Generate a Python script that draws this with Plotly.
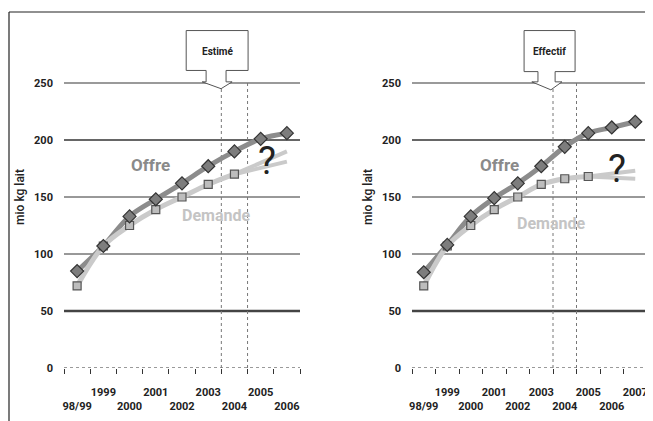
import plotly.graph_objects as go

# ---- data ----
cats_left = ["98/99", "1999", "2000", "2001", "2002", "2003", "2004", "2005", "2006"]
offre_left = [85, 107, 133, 148, 162, 177, 190, 201, 206]
demande_left = [72, 107, 125, 139, 150, 161, 170]
demande_left_hi = [170, 190]
demande_left_lo = [170, 181]
split_left = ["2004", "2006"]

cats_right = ["98/99", "1999", "2000", "2001", "2002", "2003", "2004", "2005", "2006", "2007"]
offre_right = [84, 108, 133, 149, 162, 177, 194, 206, 211, 216]
demande_right = [72, 107, 125, 139, 150, 161, 166, 168]
demande_right_hi = [168, 173]
demande_right_lo = [168, 166]
split_right = ["2005", "2007"]

y_ticks = [0, 50, 100, 150, 200, 250]
callout_left = "Estimé"
callout_right = "Effectif"
y_title = "mio kg lait"

OFFRE_LINE = "#8c8c8c"
OFFRE_MARK = "#7d7d7d"
DEM_LINE = "#cacaca"
DEM_MARK = "#bdbdbd"
FONT = "Liberation Sans Narrow, Roboto, Arial, sans-serif"

# the page body has an 8px margin: size the figure so it fills the window
PAGE_W, PAGE_H, OFF = 653, 421, 8
W, H = PAGE_W - OFF, PAGE_H - OFF


def px_x(p):
    return (p - OFF) / W


def px_y(p):
    return 1 - (p - OFF) / H


def tick_text(cats):
    return [c if i % 2 == 1 else "<br>" + c for i, c in enumerate(cats)]


fig = go.Figure()


def add_panel(xa, ya, cats, offre, demande, split, hi, lo):
    n_d = len(demande)
    fig.add_trace(go.Scatter(x=cats, y=offre, mode="lines", line=dict(color=OFFRE_LINE, width=5, shape="spline"),
                             xaxis=xa, yaxis=ya, hoverinfo="skip"))
    fig.add_trace(go.Scatter(x=cats[:n_d], y=demande, mode="lines", line=dict(color=DEM_LINE, width=5, shape="spline"),
                             xaxis=xa, yaxis=ya, hoverinfo="skip"))
    fig.add_trace(go.Scatter(x=split, y=hi, mode="lines", line=dict(color=DEM_LINE, width=4),
                             xaxis=xa, yaxis=ya, hoverinfo="skip"))
    fig.add_trace(go.Scatter(x=split, y=lo, mode="lines", line=dict(color=DEM_LINE, width=4),
                             xaxis=xa, yaxis=ya, hoverinfo="skip"))
    fig.add_trace(go.Scatter(x=cats[:n_d], y=demande, mode="markers",
                             marker=dict(symbol="square", size=8, color=DEM_MARK, line=dict(color="#555", width=1.2)),
                             xaxis=xa, yaxis=ya, hoverinfo="skip"))
    fig.add_trace(go.Scatter(x=cats, y=offre, mode="markers",
                             marker=dict(symbol="diamond", size=10, color=OFFRE_MARK, line=dict(color="#333", width=1.2)),
                             xaxis=xa, yaxis=ya, hoverinfo="skip"))


add_panel("x", "y", cats_left, offre_left, demande_left, split_left, demande_left_hi, demande_left_lo)
add_panel("x2", "y2", cats_right, offre_right, demande_right, split_right, demande_right_hi, demande_right_lo)

yaxis_common = dict(range=[0, 300], domain=[px_y(368), px_y(26)], tickvals=y_ticks, showgrid=False,
                    zeroline=False, showline=False, ticks="", automargin=False,
                    tickfont=dict(size=11, color="#222", family=FONT, weight="bold"),
                    ticklabelstandoff=10,
                    title=dict(text=y_title, font=dict(size=12, color="#222", family=FONT, weight=500),
                               standoff=6))
xaxis_common = dict(type="category", tickson="boundaries", ticks="outside", ticklen=5, tickcolor="#333",
                    showgrid=False, zeroline=False, showline=False, tickangle=0, automargin=False,
                    ticklabelstandoff=16,
                    tickfont=dict(size=11, color="#222", family=FONT, weight="bold"))

fig.update_layout(
    width=W, height=H, margin=dict(l=0, r=0, t=0, b=0, autoexpand=False),
    paper_bgcolor="white", plot_bgcolor="white", showlegend=False,
    xaxis=dict(xaxis_common, domain=[px_x(64), px_x(300)], range=[-0.5, 8.5], anchor="y",
               tickmode="array", tickvals=cats_left, ticktext=tick_text(cats_left)),
    yaxis=dict(yaxis_common, anchor="x"),
    xaxis2=dict(xaxis_common, domain=[px_x(412), px_x(647)], range=[-0.5, 9.5], anchor="y2",
                tickmode="array", tickvals=cats_right, ticktext=tick_text(cats_right)),
    yaxis2=dict(yaxis_common, anchor="x2"),
)

shapes = []
grid_style = {250: ("#9a9a9a", 2, "solid"), 200: ("#333", 1.5, "solid"), 150: ("#333", 1, "solid"),
              100: ("#333", 1, "solid"), 50: ("#444", 2.5, "solid"), 0: ("#9a9a9a", 2, "dot")}
for xa, ya in [("x", "y"), ("x2", "y2")]:
    for v in y_ticks:
        c, w, d = grid_style[v]
        shapes.append(dict(type="line", xref=f"{xa} domain", yref=ya, x0=0, x1=1, y0=v, y1=v,
                           line=dict(color=c, width=w, dash=d), layer="below"))
    for xv in (5.5, 6.5):
        shapes.append(dict(type="line", xref=xa, yref=ya, x0=xv, x1=xv, y0=0, y1=250,
                           line=dict(color="#777", width=1, dash="dot"), layer="below"))


def callout(xa, ya, bx0, bx1, sx0, sx1, fx0, fx1, tipx, ytop, ybot, ystem, ytip):
    path = (f"M{bx0},{ytop} L{bx1},{ytop} L{bx1},{ybot} L{sx1},{ybot} L{sx1},{ystem} L{fx1},{ystem} "
            f"L{tipx},{ytip} L{fx0},{ystem} L{sx0},{ystem} L{sx0},{ybot} L{bx0},{ybot} Z")
    return dict(type="path", xref=xa, yref=ya, path=path, fillcolor="white",
                line=dict(color="#555", width=1))


shapes.append(callout("x", "y", 4.16, 6.52, 4.92, 5.68, 4.77, 5.91, 5.49, 296, 261, 251, 245))
shapes.append(callout("x2", "y2", 4.27, 6.44, 4.86, 5.59, 4.6, 5.88, 5.41, 296, 260, 251, 244))

# outer frame
shapes.append(dict(type="line", xref="paper", yref="paper", x0=px_x(9), x1=1, y0=px_y(12), y1=px_y(12),
                   line=dict(color="#222", width=1.2)))
shapes.append(dict(type="line", xref="paper", yref="paper", x0=px_x(9), x1=px_x(9), y0=0, y1=px_y(12),
                   line=dict(color="#222", width=1.2)))
fig.update_layout(shapes=shapes)

ann = []
for xa, ya, txt, ox, oy, dx, dy, qx, qy in [
    ("x", "y", callout_left, 5.34, 278, 2.78, 178, 7.25, 182),
    ("x2", "y2", callout_right, 5.35, 278, 3.24, 178, 8.22, 175),
]:
    ann.append(dict(xref=xa, yref=ya, x=ox, y=oy, text="<b>" + txt + "</b>", showarrow=False,
                    font=dict(size=10, color="#222", family=FONT)))
    ann.append(dict(xref=xa, yref=ya, x=dx, y=dy, text="<b>Offre</b>", showarrow=False,
                    font=dict(size=17, color="#8a8a8a", family=FONT)))
    ann.append(dict(xref=xa, yref=ya, x=5.3 if xa == "x" else 5.4, y=134 if xa == "x" else 127,
                    text="<b>Demande</b>", showarrow=False,
                    font=dict(size=16, color="#c4c4c4", family=FONT)))
    ann.append(dict(xref=xa, yref=ya, x=qx, y=qy, text="?", showarrow=False,
                    font=dict(size=38, color="#222", family=FONT)))
fig.update_layout(annotations=ann)

fig.write_html("out.html")
